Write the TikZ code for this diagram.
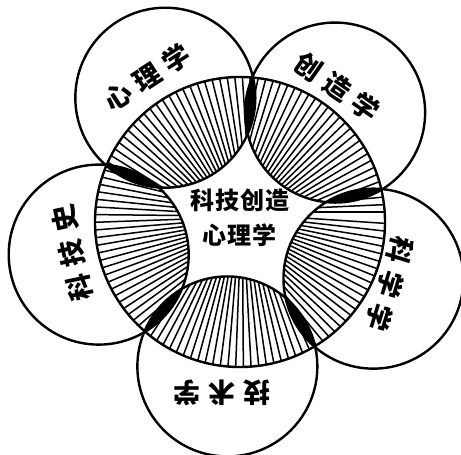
\documentclass[tikz,border=0pt]{standalone}
\usepackage{fontspec}
\newfontfamily\cjk{Noto Sans CJK SC}
\newcommand{\chgap}{\hspace{8pt}}
\newcommand{\cogap}{\hspace{1pt}}

\begin{document}
\begin{tikzpicture}[
  x=1pt,
  y=1pt,
  rim/.style={line width=2.4pt},
  hatch/.style={line width=1.5pt},
  lens/.style={fill=black},
  lbl/.style={font=\cjk\bfseries\fontsize{27}{27}\selectfont, inner sep=0pt},
  core/.style={font=\cjk\bfseries\fontsize{24}{35}\selectfont, align=center, inner sep=0pt}
]
\useasboundingbox (-240,-233) rectangle (221,222);
\def\R{145}
\def\r{90}
\coordinate (o) at (0,0);
\foreach \a/\n in {121/psy,49/cre,-23/sci,-95/tec,193/his}{
  \coordinate (\n) at (\a:\R);
  \coordinate (\n-apex) at (\a+180:25);
}

% hatching inside each petal
\foreach \n in {psy,cre,sci,tec,his}{
  \begin{scope}
    \clip (o) circle[radius=\R];
    \clip (\n) circle[radius=\r];
    \foreach \t in {0,2.6,...,358}
      \draw[hatch] (\n-apex) -- ++(\t:200);
  \end{scope}
}

% dark lenses where petals overlap
\foreach \p/\q in {psy/cre,cre/sci,sci/tec,tec/his,his/psy}{
  \begin{scope}
    \clip (o) circle[radius=\R];
    \clip (\p) circle[radius=\r];
    \path[lens] (\q) circle[radius=\r];
  \end{scope}
}

\draw[rim] (o) circle[radius=\R];
\foreach \n in {psy,cre,sci,tec,his}
  \draw[rim] (\n) circle[radius=\r];

\node[lbl, rotate=33] (psyl) at (-93,145) {心\chgap 理\chgap 学};
\node[lbl, rotate=-35] (crel) at (97,135) {创\chgap 造\chgap 学};
\node[lbl, rotate=-107] (scil) at (150,-62) {科\chgap 学\chgap 学};
\node[lbl, rotate=180] (tecl) at (-18,-171) {技\chgap 术\chgap 学};
\node[lbl, rotate=102] (hisl) at (-168,-31) {科\chgap 技\chgap 史};

\node[core] (core) at (0,4) {科\cogap 技\cogap 创\cogap 造\\心\cogap 理\cogap 学};
\end{tikzpicture}
\end{document}
